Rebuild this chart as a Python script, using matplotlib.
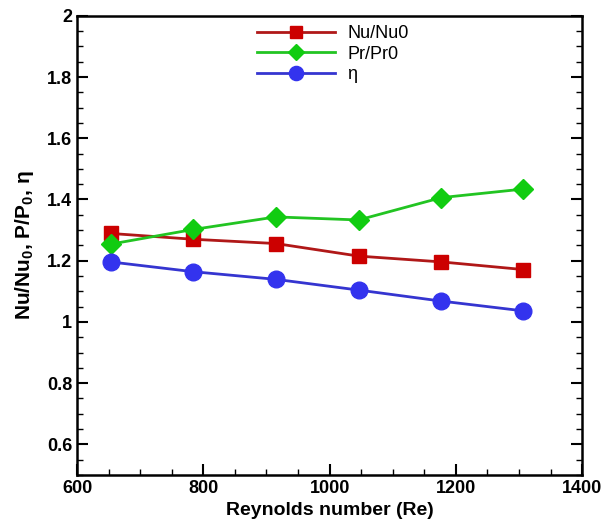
import matplotlib.pyplot as plt
from matplotlib.ticker import MultipleLocator

plt.rcParams['font.family'] = ['Liberation Sans', 'DejaVu Sans']
plt.rcParams['mathtext.fontset'] = 'custom'
plt.rcParams['mathtext.rm'] = 'Liberation Sans:bold'
plt.rcParams['mathtext.bf'] = 'Liberation Sans:bold'

# data
re = [653, 784, 915, 1046, 1177, 1307]
nu_ratio = [1.289, 1.270, 1.256, 1.215, 1.196, 1.171]
pr_ratio = [1.254, 1.302, 1.343, 1.333, 1.406, 1.434]
eta = [1.196, 1.164, 1.139, 1.104, 1.068, 1.036]

fig = plt.figure(figsize=(6.02, 5.26), dpi=100)
ax = fig.add_axes([0.128, 0.097, 0.839, 0.873])

ax.plot(re, nu_ratio, color='#b01818', lw=2, marker='s', ms=10,
        mfc='#cc0000', mec='#cc0000', label='Nu/Nu0')
ax.plot(re, pr_ratio, color='#22c422', lw=2, marker='D', ms=10,
        mfc='#11cc11', mec='#11cc11', label='Pr/Pr0')
ax.plot(re, eta, color='#3535d0', lw=2, marker='o', ms=12,
        mfc='#3333ee', mec='#3333ee', label='η')

ax.set_xlim(600, 1400)
ax.set_ylim(0.5, 2)
ax.xaxis.set_major_locator(MultipleLocator(200))
ax.xaxis.set_minor_locator(MultipleLocator(50))
ax.yaxis.set_minor_locator(MultipleLocator(0.05))
ax.set_yticks([0.6, 0.8, 1, 1.2, 1.4, 1.6, 1.8, 2])
ax.set_yticklabels(['0.6', '0.8', '1', '1.2', '1.4', '1.6', '1.8', '2'])

ax.tick_params(which='both', direction='in', top=False, right=True,
               labelsize=13, width=1.5)
ax.tick_params(which='major', length=8)
ax.tick_params(which='minor', length=4, width=1)
for lab in ax.get_xticklabels() + ax.get_yticklabels():
    lab.set_fontweight('bold')
for sp in ax.spines.values():
    sp.set_linewidth(1.8)

ax.set_xlabel('Reynolds number (Re)', fontsize=14, fontweight='bold', labelpad=4)
ax.set_ylabel('Nu/Nu$_0$, P/P$_0$, η', fontsize=15, fontweight='bold', labelpad=8)

ax.legend(loc='upper left', bbox_to_anchor=(0.40, 0.983), bbox_transform=fig.transFigure,
          frameon=False, fontsize=13, handlelength=4.3, labelspacing=0.2,
          handletextpad=0.7, markerscale=0.85)

fig.savefig('out.png', dpi=100)
